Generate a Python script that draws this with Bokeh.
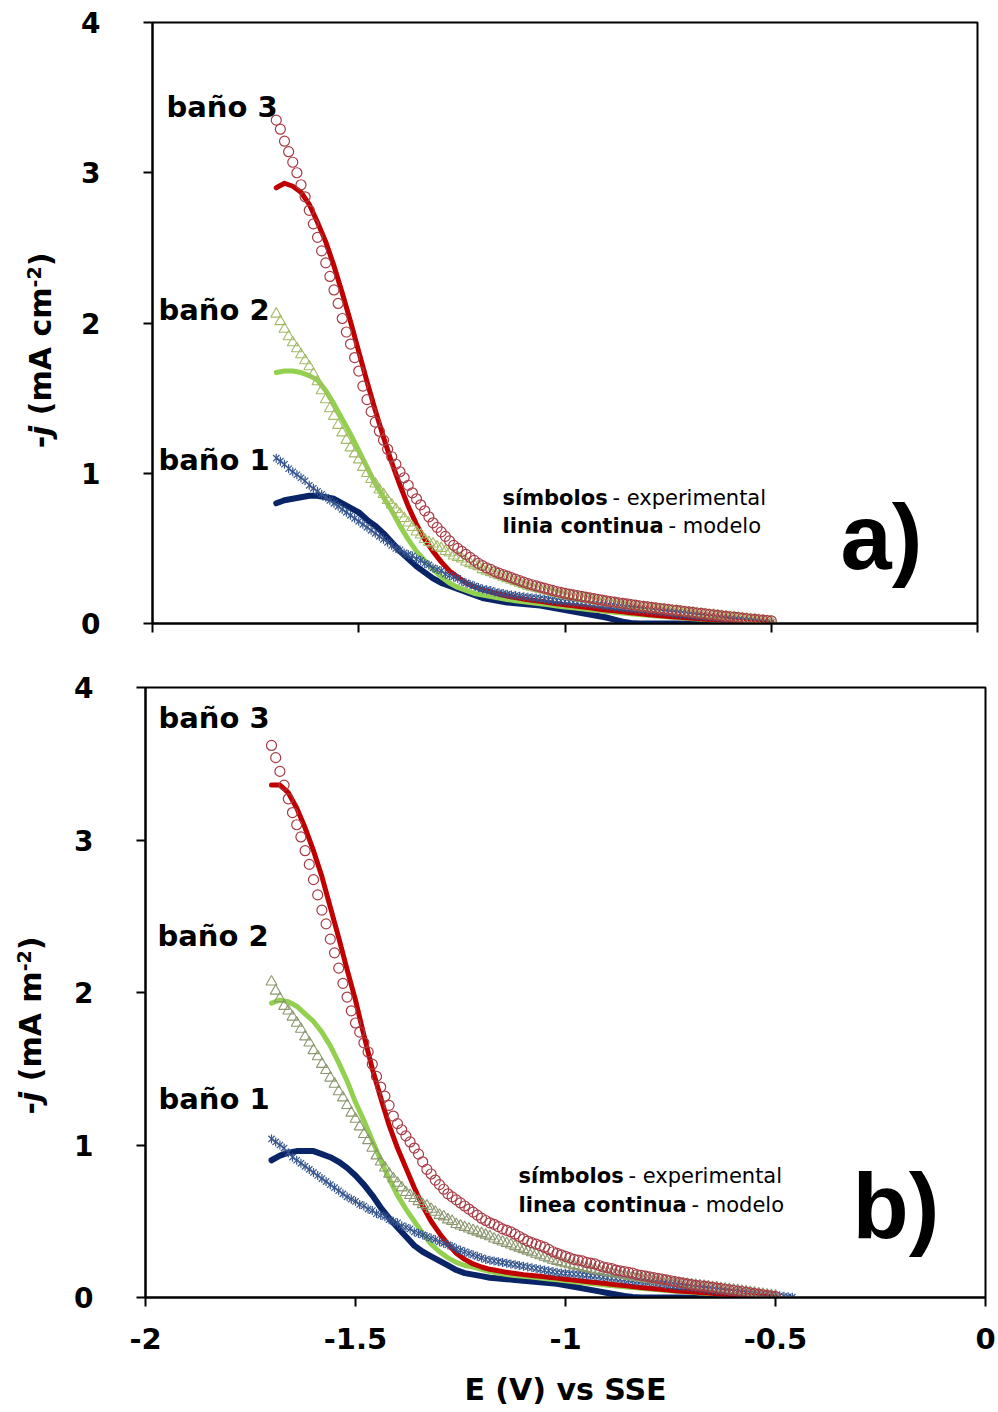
import math
from bokeh.plotting import figure
from bokeh.layouts import column, row
from bokeh.models import Label, Range1d, FixedTicker, CustomJSTickFormatter
from bokeh.embed import file_html
from bokeh.resources import INLINE

FONT = "DejaVu Sans"
FONT_BIG = "Liberation Sans"

# ---------------- data ----------------
# potential grid of the experimental points (V vs SSE)
E_EXP = [-1.70, -1.69, -1.68, -1.67, -1.66, -1.65, -1.64, -1.63, -1.62, -1.61,
         -1.60, -1.59, -1.58, -1.57, -1.56, -1.55, -1.54, -1.53, -1.52, -1.51,
         -1.50, -1.49, -1.48, -1.47, -1.46, -1.45, -1.44, -1.43, -1.42, -1.41,
         -1.40, -1.39, -1.38, -1.37, -1.36, -1.35, -1.34, -1.33, -1.32, -1.31,
         -1.30, -1.29, -1.28, -1.27, -1.26, -1.25, -1.24, -1.23, -1.22, -1.21,
         -1.20, -1.19, -1.18, -1.17, -1.16, -1.15, -1.14, -1.13, -1.12, -1.11,
         -1.10, -1.09, -1.08, -1.07, -1.06, -1.05, -1.04, -1.03, -1.02, -1.01,
         -1.00, -0.99, -0.98, -0.97, -0.96, -0.95, -0.94, -0.93, -0.92, -0.91,
         -0.90, -0.89, -0.88, -0.87, -0.86, -0.85, -0.84, -0.83, -0.82, -0.81,
         -0.80, -0.79, -0.78, -0.77, -0.76, -0.75, -0.74, -0.73, -0.72, -0.71,
         -0.70, -0.69, -0.68, -0.67, -0.66, -0.65, -0.64, -0.63, -0.62, -0.61,
         -0.60, -0.59, -0.58, -0.57, -0.56, -0.55, -0.54, -0.53, -0.52, -0.51,
         -0.50, -0.49, -0.48, -0.47, -0.46]

# potential grid of the model curves
E_MOD = [-1.70, -1.68, -1.66, -1.64, -1.62, -1.60, -1.58, -1.56, -1.54, -1.52,
         -1.50, -1.48, -1.46, -1.44, -1.42, -1.40, -1.38, -1.36, -1.34, -1.32,
         -1.30, -1.28, -1.26, -1.24, -1.22, -1.20, -1.18, -1.16, -1.14, -1.12,
         -1.10, -1.08, -1.06, -1.04, -1.02, -1.00, -0.98, -0.96, -0.94, -0.92,
         -0.90, -0.88, -0.86, -0.84, -0.82, -0.80, -0.78, -0.76, -0.74, -0.72,
         -0.70, -0.68, -0.66, -0.64, -0.62, -0.60, -0.58, -0.56, -0.54, -0.52,
         -0.50]

# ---- panel a) : -j (mA cm-2)
A_BANO3_EXP = [3.35, 3.29, 3.21, 3.14, 3.07, 3.00, 2.92, 2.84, 2.75, 2.66,
               2.57, 2.48, 2.40, 2.31, 2.22, 2.13, 2.03, 1.94, 1.86, 1.77,
               1.68, 1.58, 1.49, 1.41, 1.34, 1.28, 1.22, 1.16, 1.11, 1.06,
               1.01, 0.97, 0.92, 0.87, 0.83, 0.79, 0.75, 0.71, 0.67, 0.64,
               0.61, 0.58, 0.55, 0.52, 0.50, 0.48, 0.46, 0.44, 0.42, 0.40,
               0.385, 0.37, 0.36, 0.345, 0.335, 0.325, 0.315, 0.305, 0.295, 0.285,
               0.275, 0.265, 0.258, 0.25, 0.242, 0.235, 0.228, 0.22, 0.213, 0.207,
               0.20, 0.195, 0.19, 0.185, 0.18, 0.175, 0.17, 0.165, 0.16, 0.155,
               0.15, 0.146, 0.142, 0.138, 0.134, 0.13, 0.126, 0.122, 0.118, 0.114,
               0.11, 0.107, 0.104, 0.10, 0.097, 0.094, 0.09, 0.087, 0.084, 0.08,
               0.077, 0.074, 0.07, 0.067, 0.064, 0.06, 0.057, 0.054, 0.051, 0.048,
               0.045, 0.042, 0.039, 0.036, 0.033, 0.03, 0.028, 0.025, 0.022, 0.02,
               0.018]
A_BANO2_EXP = [2.06, 2.01, 1.96, 1.91, 1.87, 1.83, 1.79, 1.75, 1.71, 1.66,
               1.61, 1.55, 1.49, 1.43, 1.38, 1.32, 1.27, 1.22, 1.17, 1.13,
               1.09, 1.04, 1.00, 0.96, 0.93, 0.89, 0.86, 0.82, 0.79, 0.76,
               0.73, 0.70, 0.67, 0.64, 0.61, 0.59, 0.56, 0.54, 0.53, 0.51,
               0.50, 0.48, 0.47, 0.45, 0.44, 0.43, 0.41, 0.40, 0.39, 0.38,
               0.36, 0.35, 0.34, 0.33, 0.32, 0.31, 0.30, 0.29, 0.28, 0.27,
               0.26, 0.25, 0.243, 0.236, 0.229, 0.222, 0.215, 0.208, 0.201, 0.195,
               0.19, 0.185, 0.18, 0.175, 0.17, 0.165, 0.16, 0.155, 0.15, 0.146,
               0.142, 0.138, 0.134, 0.13, 0.126, 0.122, 0.118, 0.114, 0.11, 0.107,
               0.104, 0.10, 0.097, 0.094, 0.091, 0.088, 0.085, 0.082, 0.079, 0.076,
               0.073, 0.07, 0.067, 0.064, 0.061, 0.058, 0.055, 0.052, 0.049, 0.046,
               0.043, 0.04, 0.037, 0.034, 0.031, 0.028, 0.025, 0.022, 0.019, 0.016,
               0.013]
A_BANO1_EXP = [1.10, 1.08, 1.06, 1.03, 1.01, 0.99, 0.97, 0.95, 0.92, 0.90,
               0.88, 0.86, 0.84, 0.82, 0.80, 0.78, 0.76, 0.74, 0.72, 0.70,
               0.68, 0.66, 0.64, 0.62, 0.60, 0.58, 0.56, 0.54, 0.52, 0.50,
               0.49, 0.47, 0.46, 0.45, 0.43, 0.42, 0.40, 0.39, 0.37, 0.36,
               0.35, 0.33, 0.32, 0.31, 0.30, 0.28, 0.27, 0.26, 0.25, 0.24,
               0.23, 0.225, 0.22, 0.21, 0.205, 0.20, 0.195, 0.19, 0.186, 0.182,
               0.178, 0.175, 0.172, 0.169, 0.166, 0.163, 0.16, 0.157, 0.154, 0.151,
               0.148, 0.145, 0.142, 0.139, 0.136, 0.133, 0.13, 0.127, 0.124, 0.121,
               0.118, 0.115, 0.112, 0.109, 0.106, 0.103, 0.10, 0.097, 0.094, 0.091,
               0.088, 0.085, 0.082, 0.079, 0.076, 0.073, 0.07, 0.067, 0.064, 0.061,
               0.058, 0.055, 0.052, 0.049, 0.046, 0.043, 0.04, 0.037, 0.034, 0.031,
               0.028, 0.025, 0.022, 0.02, 0.018, 0.016, 0.014, 0.012, 0.01, 0.008,
               0.006]
A_BANO3_MOD = [2.90, 2.93, 2.91, 2.87, 2.79, 2.67, 2.54, 2.38, 2.20, 2.01,
               1.81, 1.61, 1.42, 1.24, 1.07, 0.92, 0.78, 0.66, 0.56, 0.48,
               0.41, 0.35, 0.31, 0.27, 0.245, 0.225, 0.21, 0.195, 0.183, 0.172,
               0.163, 0.155, 0.148, 0.14, 0.132, 0.125, 0.118, 0.111, 0.104, 0.097,
               0.09, 0.084, 0.078, 0.072, 0.066, 0.06, 0.055, 0.05, 0.045, 0.041,
               0.037, 0.033, 0.029, 0.026, 0.023, 0.02, 0.017, 0.014, 0.012, 0.01,
               0.008]
A_BANO2_MOD = [1.67, 1.68, 1.68, 1.67, 1.65, 1.62, 1.55, 1.46, 1.36, 1.26,
               1.15, 1.04, 0.93, 0.84, 0.75, 0.65, 0.56, 0.48, 0.42, 0.36,
               0.31, 0.27, 0.24, 0.22, 0.20, 0.19, 0.18, 0.17, 0.16, 0.152,
               0.145, 0.138, 0.131, 0.124, 0.117, 0.11, 0.104, 0.098, 0.092, 0.086,
               0.08, 0.075, 0.07, 0.065, 0.06, 0.055, 0.05, 0.046, 0.042, 0.038,
               0.034, 0.03, 0.027, 0.024, 0.021, 0.018, 0.015, 0.012, 0.01, 0.008,
               0.006]
A_BANO1_MOD = [0.80, 0.82, 0.83, 0.84, 0.85, 0.85, 0.84, 0.83, 0.80, 0.77,
               0.74, 0.69, 0.65, 0.60, 0.54, 0.48, 0.43, 0.38, 0.34, 0.30,
               0.27, 0.25, 0.23, 0.21, 0.19, 0.17, 0.16, 0.15, 0.14, 0.135,
               0.13, 0.125, 0.12, 0.11, 0.10, 0.09, 0.08, 0.07, 0.06, 0.05,
               0.04, 0.026, 0.012, 0.004, 0.0, 0.0, 0.0, 0.0, 0.0, 0.0,
               0.0, 0.0, 0.0, 0.0, 0.0, 0.0, 0.0, 0.0, 0.0, 0.0,
               0.0]

# ---- panel b) : -j (mA m-2)
B_BANO3_EXP = [3.62, 3.54, 3.45, 3.36, 3.27, 3.18, 3.10, 3.02, 2.93, 2.84,
               2.74, 2.64, 2.54, 2.45, 2.35, 2.26, 2.16, 2.06, 1.97, 1.88,
               1.80, 1.74, 1.67, 1.61, 1.53, 1.45, 1.38, 1.32, 1.26, 1.19,
               1.14, 1.10, 1.06, 1.02, 0.98, 0.94, 0.89, 0.84, 0.81, 0.77,
               0.74, 0.71, 0.68, 0.66, 0.64, 0.62, 0.60, 0.58, 0.56, 0.54,
               0.52, 0.505, 0.49, 0.48, 0.465, 0.45, 0.44, 0.43, 0.415, 0.40,
               0.385, 0.37, 0.36, 0.35, 0.34, 0.33, 0.315, 0.30, 0.29, 0.28,
               0.27, 0.26, 0.25, 0.245, 0.24, 0.23, 0.225, 0.22, 0.21, 0.20,
               0.195, 0.19, 0.18, 0.175, 0.17, 0.165, 0.16, 0.15, 0.145, 0.14,
               0.135, 0.13, 0.125, 0.12, 0.115, 0.11, 0.105, 0.10, 0.095, 0.09,
               0.085, 0.08, 0.077, 0.074, 0.07, 0.066, 0.062, 0.058, 0.054, 0.05,
               0.046, 0.042, 0.038, 0.034, 0.03, 0.026, 0.022, 0.018, 0.014, 0.01,
               0.006]
B_BANO2_EXP = [2.07, 2.01, 1.96, 1.91, 1.88, 1.84, 1.80, 1.76, 1.71, 1.67,
               1.62, 1.58, 1.53, 1.49, 1.44, 1.40, 1.35, 1.31, 1.26, 1.21,
               1.17, 1.12, 1.07, 1.03, 0.98, 0.93, 0.89, 0.85, 0.81, 0.78,
               0.75, 0.72, 0.69, 0.67, 0.65, 0.63, 0.61, 0.60, 0.58, 0.56,
               0.54, 0.53, 0.51, 0.50, 0.48, 0.47, 0.46, 0.45, 0.44, 0.43,
               0.42, 0.41, 0.40, 0.385, 0.375, 0.365, 0.355, 0.345, 0.335, 0.325,
               0.315, 0.305, 0.295, 0.285, 0.275, 0.265, 0.255, 0.245, 0.237, 0.229,
               0.222, 0.216, 0.21, 0.204, 0.198, 0.192, 0.186, 0.18, 0.175, 0.17,
               0.165, 0.16, 0.155, 0.15, 0.145, 0.14, 0.136, 0.132, 0.128, 0.124,
               0.12, 0.116, 0.112, 0.108, 0.104, 0.10, 0.097, 0.094, 0.091, 0.088,
               0.085, 0.081, 0.078, 0.074, 0.071, 0.067, 0.064, 0.06, 0.057, 0.053,
               0.05, 0.046, 0.042, 0.038, 0.034, 0.03, 0.026, 0.022, 0.018, 0.014,
               0.01]
B_BANO1_EXP = [1.04, 1.02, 1.00, 0.98, 0.95, 0.92, 0.90, 0.88, 0.86, 0.84,
               0.82, 0.80, 0.78, 0.76, 0.74, 0.72, 0.70, 0.68, 0.66, 0.645,
               0.63, 0.61, 0.60, 0.58, 0.57, 0.55, 0.54, 0.53, 0.51, 0.50,
               0.49, 0.47, 0.46, 0.45, 0.43, 0.42, 0.41, 0.40, 0.39, 0.38,
               0.365, 0.355, 0.345, 0.335, 0.32, 0.31, 0.30, 0.29, 0.28, 0.27,
               0.26, 0.25, 0.245, 0.24, 0.235, 0.23, 0.225, 0.22, 0.215, 0.21,
               0.205, 0.20, 0.195, 0.19, 0.185, 0.18, 0.175, 0.17, 0.165, 0.16,
               0.158, 0.156, 0.154, 0.152, 0.15, 0.147, 0.144, 0.141, 0.138, 0.134,
               0.13, 0.127, 0.124, 0.121, 0.118, 0.115, 0.112, 0.109, 0.106, 0.103,
               0.10, 0.097, 0.093, 0.09, 0.086, 0.083, 0.079, 0.076, 0.072, 0.069,
               0.065, 0.062, 0.059, 0.056, 0.053, 0.05, 0.047, 0.044, 0.041, 0.038,
               0.035, 0.032, 0.03, 0.028, 0.026, 0.024, 0.022, 0.02, 0.018, 0.016,
               0.014, 0.011, 0.008, 0.005, 0.002]
B_BANO3_MOD = [3.36, 3.36, 3.31, 3.21, 3.08, 2.93, 2.76, 2.56, 2.36, 2.15,
               1.95, 1.72, 1.50, 1.31, 1.13, 0.98, 0.85, 0.72, 0.60, 0.50,
               0.42, 0.35, 0.29, 0.25, 0.22, 0.20, 0.185, 0.175, 0.165, 0.158,
               0.15, 0.145, 0.14, 0.133, 0.127, 0.12, 0.114, 0.108, 0.102, 0.096,
               0.09, 0.084, 0.078, 0.072, 0.066, 0.06, 0.055, 0.05, 0.045, 0.041,
               0.037, 0.033, 0.029, 0.025, 0.021, 0.018, 0.015, 0.012, 0.009, 0.007,
               0.005]
B_BANO2_MOD = [1.93, 1.95, 1.94, 1.91, 1.86, 1.81, 1.74, 1.65, 1.54, 1.42,
               1.28, 1.16, 1.03, 0.90, 0.78, 0.67, 0.58, 0.50, 0.42, 0.35,
               0.30, 0.26, 0.23, 0.21, 0.20, 0.185, 0.17, 0.16, 0.15, 0.145,
               0.14, 0.134, 0.128, 0.122, 0.116, 0.11, 0.104, 0.098, 0.092, 0.086,
               0.08, 0.075, 0.07, 0.065, 0.06, 0.055, 0.05, 0.046, 0.042, 0.038,
               0.034, 0.03, 0.027, 0.024, 0.021, 0.018, 0.015, 0.012, 0.01, 0.008,
               0.006]
B_BANO1_MOD = [0.90, 0.93, 0.95, 0.96, 0.96, 0.96, 0.94, 0.92, 0.89, 0.85,
               0.80, 0.74, 0.67, 0.59, 0.52, 0.46, 0.40, 0.34, 0.30, 0.27,
               0.24, 0.21, 0.18, 0.16, 0.15, 0.14, 0.13, 0.125, 0.12, 0.115,
               0.11, 0.105, 0.10, 0.095, 0.09, 0.08, 0.07, 0.06, 0.05, 0.04,
               0.03, 0.02, 0.01, 0.004, 0.0, 0.0, 0.0, 0.0, 0.0, 0.0,
               0.0, 0.0, 0.0, 0.0, 0.0, 0.0, 0.0, 0.0, 0.0, 0.0,
               0.0]

X_TICKS = [-2, -1.5, -1, -0.5, 0]
Y_TICKS = [0, 1, 2, 3, 4]
SERIES_NAMES = ["baño 3", "baño 2", "baño 1"]

# ---------------- styles ----------------
RED_LINE = "#c00000"
GREEN_LINE = "#92d050"
NAVY_LINE = "#0a2468"
CIRCLE_EDGE = "#a83c46"
TRI_EDGE_A = "#a3bb66"
TRI_EDGE_B = "#8b976f"
STAR_EDGE = "#35558e"

LEFT_W = 70          # width of the strip holding the vertical titles
PAGE_W = 998
PAGE_H = 1412
BASE_K = 0.37        # observed offset of rendered baseline below anchor (em)


def make_fig(geom, show_xlabels):
    W, H, fl, fr, ft, fb = geom
    p = figure(width=W, height=H, x_range=Range1d(-2, 0), y_range=Range1d(0, 4),
               output_backend="svg", toolbar_location=None, title=None,
               min_border_left=fl, min_border_right=fr,
               min_border_top=ft, min_border_bottom=fb)
    p.frame_align = False
    p.grid.visible = False
    p.background_fill_color = "white"
    p.border_fill_color = "white"
    p.outline_line_color = "black"
    p.outline_line_width = 2
    p.outline_line_alpha = 1.0
    for ax in (p.xaxis[0], p.yaxis[0]):
        ax.axis_line_width = 2
        ax.axis_line_color = "black"
        ax.major_tick_line_width = 2
        ax.major_tick_line_color = "black"
        ax.major_tick_out = 9
        ax.major_tick_in = 0
        ax.minor_tick_line_color = None
        ax.major_label_text_font = FONT
        ax.major_label_text_font_style = "bold"
        ax.major_label_text_color = "black"
    p.xaxis.ticker = FixedTicker(ticks=X_TICKS)
    p.yaxis.ticker = FixedTicker(ticks=Y_TICKS)
    p.yaxis.formatter = CustomJSTickFormatter(code="return tick.toString();")
    p.yaxis.major_label_text_font_size = "28px"
    p.yaxis.major_label_standoff = 43
    if show_xlabels:
        p.xaxis.formatter = CustomJSTickFormatter(code="return tick.toString();")
        p.xaxis.major_label_text_font_size = "29px"
        p.xaxis.major_label_standoff = 21
    else:
        p.xaxis.formatter = CustomJSTickFormatter(code="return '';")
        p.xaxis.major_label_text_font_size = "1px"
        p.xaxis.major_label_standoff = 0
    return p


def add_series(p, exp3, exp2, exp1, mod3, mod2, mod1, tri_edge):
    # model curves (continuous lines)
    p.line(E_MOD[:len(mod1)], mod1, line_color=NAVY_LINE, line_width=6,
           line_cap="round", line_join="round")
    p.line(E_MOD[:len(mod2)], mod2, line_color=GREEN_LINE, line_width=5,
           line_cap="round", line_join="round")
    p.line(E_MOD[:len(mod3)], mod3, line_color=RED_LINE, line_width=5,
           line_cap="round", line_join="round")
    # experimental symbols
    p.scatter(E_EXP[:len(exp1)], exp1, marker="x", size=9, line_color=STAR_EDGE,
              line_width=1.2)
    p.scatter(E_EXP[:len(exp1)], exp1, marker="dash", size=9, angle=math.pi / 2,
              line_color=STAR_EDGE, line_width=1.2)
    p.scatter(E_EXP[:len(exp2)], exp2, marker="triangle", size=11,
              fill_color=None, line_color=tri_edge, line_width=1.1)
    p.scatter(E_EXP[:len(exp3)], exp3, marker="circle", size=10,
              fill_color=None, line_color=CIRCLE_EDGE, line_width=1.2)


def lab(p, x, y, text, size, style="bold", font=FONT, angle=0.0):
    p.add_layout(Label(x=x, y=y, text=text, text_font=font,
                       text_font_size="%dpx" % size, text_font_style=style,
                       text_color="black", text_align="left",
                       text_baseline="alphabetic", angle=angle))


class Panel:
    """converts page pixel positions to data coordinates of one panel"""

    def __init__(self, page_left, page_top, frame_w, frame_h):
        self.l, self.t, self.w, self.h = page_left, page_top, frame_w, frame_h

    def x(self, px):
        return -2 + (px - self.l) * 2.0 / self.w

    def y(self, py):
        return (self.t + self.h - py) * 4.0 / self.h


def text_at(p, pan, px, base_py, text, size, style="bold", font=FONT):
    lab(p, pan.x(px), pan.y(base_py - BASE_K * size), text, size, style, font)


# ---------------- panel a ----------------
GEOM_A = (PAGE_W - LEFT_W, 655, 152 - LEFT_W, 21, 22, 32)
pa = make_fig(GEOM_A, False)
add_series(pa, A_BANO3_EXP, A_BANO2_EXP, A_BANO1_EXP,
           A_BANO3_MOD, A_BANO2_MOD, A_BANO1_MOD, TRI_EDGE_A)
PA = Panel(152, 22, 825, 601)
text_at(pa, PA, 166, 117, SERIES_NAMES[0], 29)
text_at(pa, PA, 158, 320, SERIES_NAMES[1], 29)
text_at(pa, PA, 158, 470, SERIES_NAMES[2], 29)
text_at(pa, PA, 502, 505, "símbolos", 21)
text_at(pa, PA, 612, 505, "- experimental", 21, style="normal")
text_at(pa, PA, 502, 533, "linia continua", 21)
text_at(pa, PA, 668, 533, "- modelo", 21, style="normal")
text_at(pa, PA, 840, 571, "a)", 92, font=FONT_BIG)

# ---------------- panel b ----------------
GEOM_B = (PAGE_W - LEFT_W, 757, 145 - LEFT_W, 13, 32, 115)
pb = make_fig(GEOM_B, True)
pb.xaxis.axis_label = "E (V) vs SSE"
pb.xaxis.axis_label_text_font = FONT
pb.xaxis.axis_label_text_font_style = "bold"
pb.xaxis.axis_label_text_font_size = "30px"
pb.xaxis.axis_label_text_color = "black"
pb.xaxis.axis_label_standoff = 20
add_series(pb, B_BANO3_EXP, B_BANO2_EXP, B_BANO1_EXP,
           B_BANO3_MOD, B_BANO2_MOD, B_BANO1_MOD, TRI_EDGE_B)
PB = Panel(145, 687, 840, 610)
text_at(pb, PB, 158, 728, SERIES_NAMES[0], 29)
text_at(pb, PB, 157, 946, SERIES_NAMES[1], 29)
text_at(pb, PB, 158, 1109, SERIES_NAMES[2], 29)
text_at(pb, PB, 518, 1183, "símbolos", 21)
text_at(pb, PB, 628, 1183, "- experimental", 21, style="normal")
text_at(pb, PB, 518, 1212, "linea continua", 21)
text_at(pb, PB, 691, 1212, "- modelo", 21, style="normal")
text_at(pb, PB, 852, 1240, "b)", 92, font=FONT_BIG)

# ---------------- strip with the vertical axis titles ----------------
side = figure(width=LEFT_W, height=PAGE_H, x_range=Range1d(0, LEFT_W),
              y_range=Range1d(PAGE_H, 0), x_axis_type=None, y_axis_type=None,
              output_backend="svg", toolbar_location=None, title=None,
              min_border=0, outline_line_color=None)
side.frame_align = False
side.grid.visible = False
side.background_fill_color = "white"
side.border_fill_color = "white"


def vtitle(unit_text, unit_em, base_px, center_py):
    fs = 30
    sup = 19
    space = 0.348 * fs
    # (text, style, size, advance em, raise px, leading gap px)
    pieces = [("-", "bold", fs, 0.415, 0, 0),
              ("j", "bold italic", fs, 0.343, 0, 0),
              (unit_text, "bold", fs, unit_em, 0, space),
              ("-2", "bold", sup, 1.111, 10, 0),
              (")", "bold", fs, 0.457, 0, 0)]
    total = sum(em * sz + gap for _, _, sz, em, _, gap in pieces)
    pos = center_py + total / 2.0
    for t, st, sz, em, raise_px, gap in pieces:
        pos -= gap
        ax = base_px - raise_px - BASE_K * sz
        lab(side, ax, pos, t, sz, style=st, angle=math.pi / 2)
        pos -= em * sz


vtitle("(mA cm", 4.256, 51, 350)
vtitle("(mA m", 3.663, 41, 1025)

layout = row(side, column(pa, pb, spacing=0), spacing=0)
open("out.html", "w").write(file_html(layout, INLINE))
